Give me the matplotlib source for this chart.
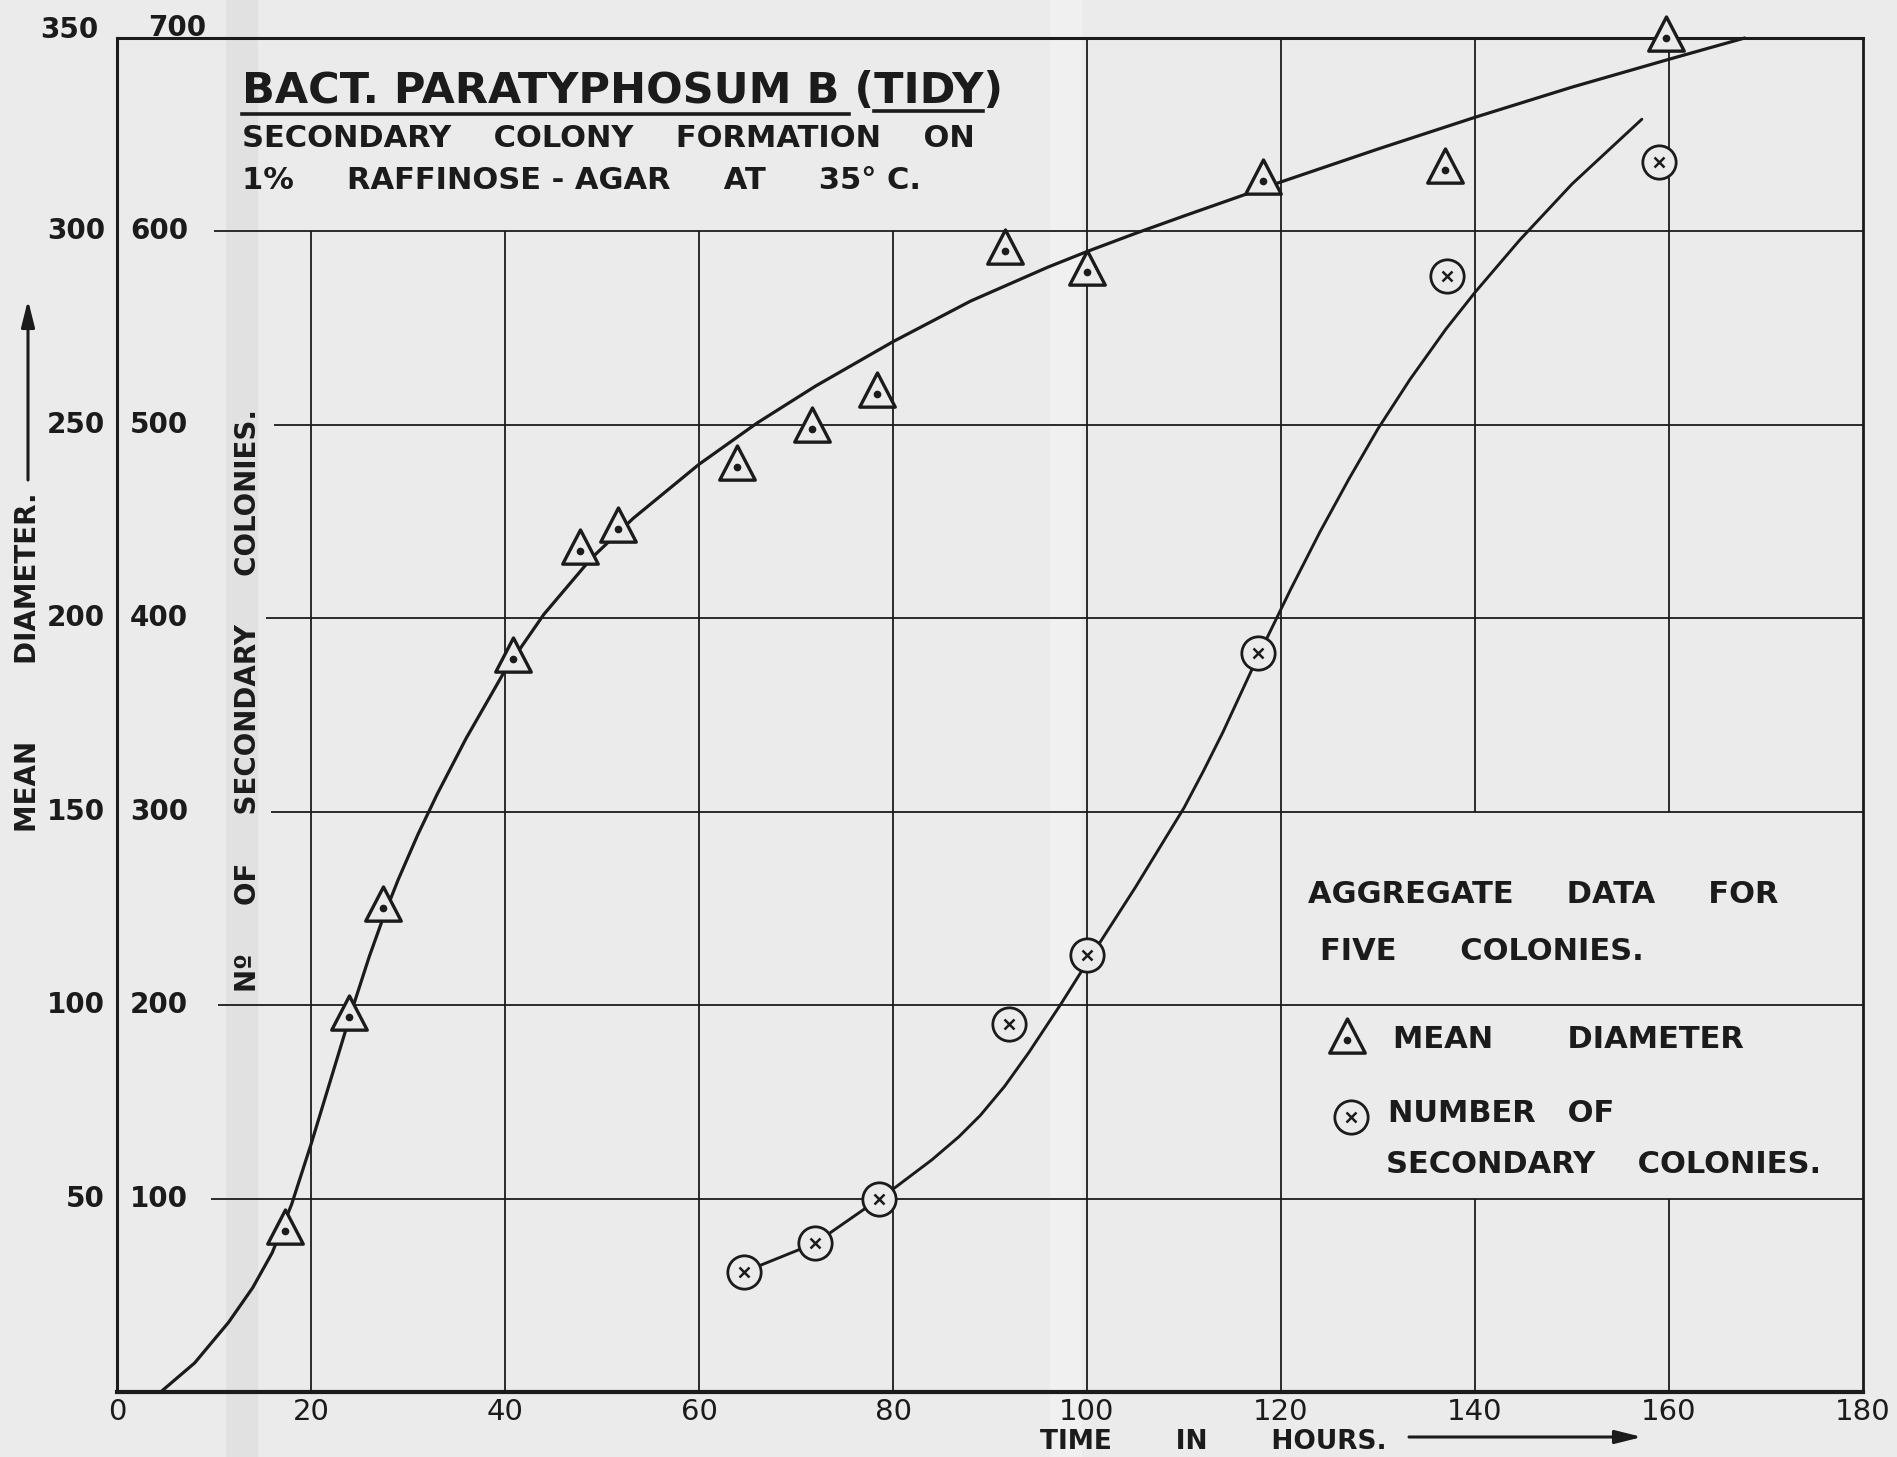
import matplotlib
matplotlib.use("Agg")
import matplotlib.pyplot as plt
from matplotlib.path import Path
from matplotlib.lines import Line2D
from matplotlib.patches import Rectangle, FancyArrowPatch
from matplotlib.font_manager import FontProperties
from matplotlib.transforms import blended_transform_factory

# ---------------------------------------------------------------- data
# Mean colony diameter (hours, diameter units)
diam_hours = [17.3, 23.9, 27.4, 40.8, 47.7, 51.7, 63.9, 71.6, 78.4, 91.5,
              100.0, 118.1, 136.9, 159.7]
mean_diameter = [41.5, 97, 125, 189.5, 217.5, 223, 239, 249, 258, 295,
                 289.5, 313, 316, 350]

# Number of secondary colonies (hours, count)
count_hours = [64.6, 72.0, 78.6, 92.0, 100.0, 117.6, 137.1, 159.0]
secondary_colonies = [62, 77, 100, 190, 226, 382, 577, 636]

# Hand-fitted curve through the diameter readings (diameter units)
diam_fit_hours = [4.5, 8, 11.5, 14, 16, 18, 20, 22, 24, 26, 27.5, 29, 31,
                  33, 36, 40, 44, 48.9, 53.2, 60, 66, 72, 80, 88, 96, 100,
                  105, 110, 120, 130, 140, 150, 160, 167.8]
diam_fit_values = [0, 7.5, 18, 27, 36, 48.5, 64, 80.5, 97, 112.5, 123, 132.5,
                   144, 154.5, 169, 186.5, 201, 215.5, 225.8, 239.8, 250.5,
                   260, 271.5, 282, 290.8, 294.8, 299.5, 304, 312.8, 321.3,
                   329.5, 337.3, 344.5, 350]

# Hand-fitted curve through the secondary colony counts
count_fit_hours = [64.6, 72, 78.6, 80.3, 84, 86.8, 89, 91.5, 94, 97.3, 100,
                   105, 110, 112, 114, 117.6, 121, 124, 127, 130, 133.3,
                   137, 140, 144.6, 150, 157.2]
count_fit_values = [62, 77, 100, 106, 120, 132, 143, 158, 175.5, 200.5, 222,
                    261, 302, 321, 341, 380, 415, 444.5, 472, 498, 523.5,
                    549.5, 568.5, 595.5, 624.5, 658]

time_ticks = [0, 20, 40, 60, 80, 100, 120, 140, 160, 180]
count_ticks = [100, 200, 300, 400, 500, 600, 700]
diam_ticks = [50, 100, 150, 200, 250, 300, 350]

# ---------------------------------------------------------------- layout
W, H = 1897, 1457
PAPER = "#ebebeb"
INK = "#1b1b1b"


def fx(px):
    return px / W


def fy(py):
    return 1 - py / H


fig = plt.figure(figsize=(W / 100, H / 100), dpi=100)
fig.patch.set_facecolor(PAPER)

# fold marks in the sheet
fig.add_artist(Rectangle((fx(226), 0), fx(258) - fx(226), 1,
                         transform=fig.transFigure, color="#e1e1e1",
                         lw=0, zorder=-5))
fig.add_artist(Rectangle((fx(1050), 0), fx(1082) - fx(1050), 1,
                         transform=fig.transFigure, color="#f0f0f0",
                         lw=0, zorder=-5))

ax = fig.add_axes([fx(117), fy(1392), fx(1863) - fx(117), fy(38) - fy(1392)])
ax.set_facecolor("none")
ax.set_xlim(0, 180)
ax.set_ylim(0, 700)
for side, lw in (("left", 2.2), ("bottom", 3.0), ("top", 2.2), ("right", 2.0)):
    ax.spines[side].set_linewidth(lw)
    ax.spines[side].set_color(INK)
ax.set_yticks([])
ax.set_xticks(time_ticks)
ax.set_xticklabels([str(t) for t in time_ticks])
ax.tick_params(axis="x", length=0, pad=4, labelsize=21, labelcolor=INK)

# ruled grid (left ends stop short of the scale figures; legend panel is open)
grid_start = {100: 9.7, 200: 10.4, 300: 15.9, 400: 15.4, 500: 16.2, 600: 10.0}
for v in count_ticks[:-1]:
    ax.hlines(v, grid_start[v], 180, color=INK, lw=1.3, zorder=1)
for t in time_ticks[1:-1]:
    if t <= 80:
        spans = [(0, 600)]
    elif t <= 120:
        spans = [(0, 700)]
    else:
        spans = [(0, 100), (300, 700)]
    for lo, hi in spans:
        ax.vlines(t, lo, hi, color=INK, lw=1.3, zorder=1)

# secondary scale for the diameter
ax2 = ax.twinx()
ax2.set_ylim(0, 350)
ax2.axis("off")

tri = Path([(0, 0.63), (-0.52, -0.37), (0.52, -0.37), (0, 0.63)],
           [Path.MOVETO, Path.LINETO, Path.LINETO, Path.CLOSEPOLY])

ax2.plot(diam_fit_hours, diam_fit_values, color=INK, lw=2.3, zorder=3,
         solid_joinstyle="round", solid_capstyle="round", clip_on=False)
ax.plot(count_fit_hours, count_fit_values, color=INK, lw=2.1, zorder=3,
        solid_joinstyle="round", solid_capstyle="round")

ax2.plot(diam_hours, mean_diameter, ls="none", marker=tri, ms=31, mfc=PAPER,
         mec=INK, mew=2.4, zorder=4, clip_on=False)
ax2.plot(diam_hours, mean_diameter, ls="none", marker="o", ms=4.5,
         color=INK, zorder=5, clip_on=False)
ax.plot(count_hours, secondary_colonies, ls="none", marker="o", ms=24,
        mfc=PAPER, mec=INK, mew=2.0, zorder=4)
ax.plot(count_hours, secondary_colonies, ls="none", marker="x", ms=7.5,
        mec=INK, mew=1.8, zorder=5)

# scale figures on the left
fp_num = FontProperties(family="DejaVu Sans", weight="bold", size=20)
tr_count = blended_transform_factory(ax.transAxes, ax.transData)
for v in count_ticks:
    top = v == count_ticks[-1]
    ax.annotate(str(v), xy=(0, v), xycoords=tr_count,
                xytext=((31 if top else 13) * 0.72, (10 if top else 0) * 0.72),
                textcoords="offset points", ha="left", va="center",
                fontproperties=fp_num, color=INK, annotation_clip=False)
tr_diam = blended_transform_factory(ax2.transAxes, ax2.transData)
for v in diam_ticks:
    top = v == diam_ticks[-1]
    ax2.annotate(str(v), xy=(0, v), xycoords=tr_diam,
                 xytext=(-(19 if top else 12) * 0.72, (8 if top else 0) * 0.72),
                 textcoords="offset points", ha="right", va="center",
                 fontproperties=fp_num, color=INK, annotation_clip=False)

# ---------------------------------------------------------------- lettering
renderer = fig.canvas.get_renderer()


def text_width(s, fp):
    w, _, _ = renderer.get_text_width_height_descent(s, fp, ismath=False)
    return w


def spread(words, fp, target):
    best = None
    for n in range(1, 14):
        s = (" " * n).join(words)
        err = abs(text_width(s, fp) - target)
        if best is None or err < best[0]:
            best = (err, s)
    return best[1]


fp_title = FontProperties(family="DejaVu Sans", weight="bold", size=31)
fp_text = FontProperties(family="DejaVu Sans", weight="bold", size=22)
fp_lab = FontProperties(family="DejaVu Sans", weight="bold", size=20)
fp_time = FontProperties(family="DejaVu Sans", weight="bold", size=19)

title = "BACT. PARATYPHOSUM B (TIDY)"
fig.text(fx(242), fy(103), title, fontproperties=fp_title, ha="left",
         va="baseline", color=INK)
w_main = text_width("BACT. PARATYPHOSUM B", fp_title)
w_pre = text_width("BACT. PARATYPHOSUM B (", fp_title)
w_tidy = text_width("TIDY", fp_title)
fig.add_artist(Line2D([fx(242), fx(242 + w_main + 10)], [fy(114), fy(114)],
                      transform=fig.transFigure, color=INK, lw=2.6))
fig.add_artist(Line2D([fx(242 + w_pre), fx(242 + w_pre + w_tidy)],
                      [fy(111), fy(111)], transform=fig.transFigure,
                      color=INK, lw=2.6))

fig.text(fx(242), fy(147),
         spread(["SECONDARY", "COLONY", "FORMATION", "ON"], fp_text, 747),
         fontproperties=fp_text, ha="left", va="baseline", color=INK)
fig.text(fx(242), fy(189),
         spread(["1%", "RAFFINOSE - AGAR", "AT", "35° C."], fp_text, 670),
         fontproperties=fp_text, ha="left", va="baseline", color=INK)

# legend panel
legend_lines = [
    (["AGGREGATE", "DATA", "FOR"], 1308, 903, 475),
    (["FIVE", "COLONIES."], 1320, 960, 320),
    (["MEAN", "DIAMETER"], 1393, 1048, 349),
    (["NUMBER", "OF"], 1388, 1122, 230),
    (["SECONDARY", "COLONIES."], 1386, 1173, 430),
]
for words, x0, yb, target in legend_lines:
    fig.text(fx(x0), fy(yb), spread(words, fp_text, target),
             fontproperties=fp_text, ha="left", va="baseline", color=INK)

fig.add_artist(Line2D([fx(1347)], [fy(1040)], transform=fig.transFigure,
                      ls="none", marker=tri, ms=31, mfc=PAPER, mec=INK,
                      mew=2.4))
fig.add_artist(Line2D([fx(1347)], [fy(1040)], transform=fig.transFigure,
                      ls="none", marker="o", ms=4.5, color=INK))
fig.add_artist(Line2D([fx(1351)], [fy(1117)], transform=fig.transFigure,
                      ls="none", marker="o", ms=24, mfc=PAPER, mec=INK,
                      mew=2.0))
fig.add_artist(Line2D([fx(1351)], [fy(1117)], transform=fig.transFigure,
                      ls="none", marker="x", ms=7.5, mec=INK, mew=1.8))

# axis captions
fig.text(fx(28), fy(662), spread(["MEAN", "DIAMETER."], fp_lab, 340),
         fontproperties=fp_lab, rotation=90, ha="center", va="center",
         color=INK)
fig.add_artist(FancyArrowPatch((fx(28), fy(480)), (fx(28), fy(300)),
                               transform=fig.transFigure,
                               arrowstyle="-|>,head_length=0.8,head_width=0.2",
                               mutation_scale=20, lw=2.2, color=INK,
                               shrinkA=0, shrinkB=0))
fig.text(fx(248), fy(700),
         spread(["Nº", "OF", "SECONDARY", "COLONIES."], fp_lab, 576),
         fontproperties=fp_lab, rotation=90, ha="center", va="center",
         color=INK)

fig.text(fx(1040), fy(1449), spread(["TIME", "IN", "HOURS."], fp_time, 345),
         fontproperties=fp_time, ha="left", va="baseline", color=INK)
fig.add_artist(FancyArrowPatch((fx(1409), fy(1437)), (fx(1642), fy(1437)),
                               transform=fig.transFigure,
                               arrowstyle="-|>,head_length=0.8,head_width=0.2",
                               mutation_scale=20, lw=2.2, color=INK,
                               shrinkA=0, shrinkB=0))

fig.savefig("out.png", dpi=100, facecolor=PAPER)
